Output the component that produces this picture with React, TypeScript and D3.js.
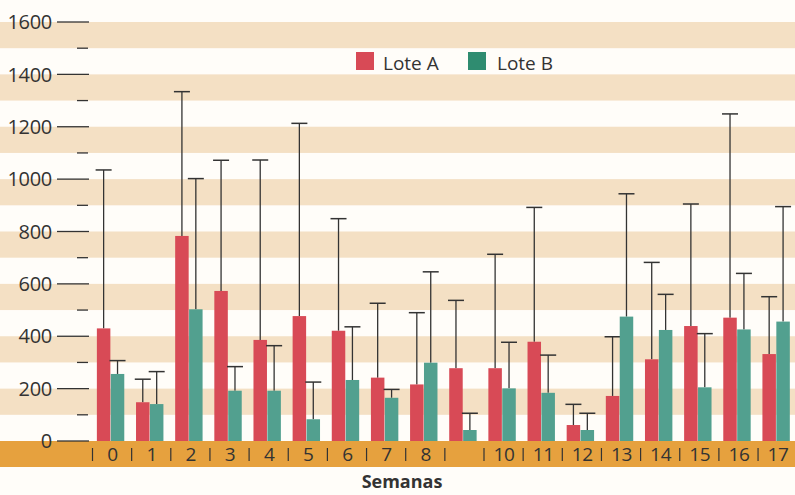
import React from 'react';
import * as d3 from 'd3';

const weeks = ['0','1','2','3','4','5','6','7','8','9','10','11','12','13','14','15','16','17'];
const weekLabels = ['0','1','2','3','4','5','6','7','8','','10','11','12','13','14','15','16','17'];
const seriesNames = ['Lote A', 'Lote B'];
const loteA = [430, 148, 783, 573, 386, 477, 421, 242, 216, 278, 278, 379, 61, 172, 312, 439, 471, 332];
const loteAUpper = [1035, 236, 1334, 1072, 1073, 1213, 849, 526, 490, 537, 713, 892, 140, 398, 682, 905, 1249, 551];
const loteB = [256, 141, 503, 192, 192, 83, 233, 165, 299, 42, 201, 184, 42, 475, 424, 205, 426, 456];
const loteBUpper = [307, 265, 1002, 284, 364, 225, 436, 197, 646, 106, 377, 328, 106, 944, 560, 410, 640, 895];
const yTicks = [0, 200, 400, 600, 800, 1000, 1200, 1400, 1600];
const yMinorTicks = [100, 300, 500, 700, 900, 1100, 1300, 1500];
const xTitle = 'Semanas';

const W = 795;
const H = 495;
const RED = '#d84a56';
const TEAL = '#52a08f';
const TEAL_LEG = '#2f8c70';
const TAN = '#f4e0c4';
const ORANGE = '#e6a13e';
const INK = '#333333';
const FONT = '"Open Sans", "Noto Sans", sans-serif';

export default function App() {
  const y = d3.scaleLinear().domain([0, 1600]).range([441, 22]);
  const x = d3.scaleBand<string>().domain(weeks).range([91, 795.7]).paddingInner(0.3).paddingOuter(0.15);
  const xs = d3.scaleBand<string>().domain(['A', 'B']).range([0, x.bandwidth()]).paddingInner(0.03);
  const series = [
    { key: 'A', vals: loteA, up: loteAUpper, color: RED },
    { key: 'B', vals: loteB, up: loteBUpper, color: TEAL },
  ];
  const step = x.step();

  return (
    <svg width={W} height={H} style={{ position: 'absolute', left: 0, top: 0, background: '#fffdf9' }} fontFamily={FONT}>
      <rect x={0} y={0} width={W} height={H} fill="#fffdf9" />
      {/* stripes */}
      {yTicks.filter(v => v > 0).map(v => (
        <rect key={'s' + v} x={0} y={y(v)} width={W} height={y(v - 100) - y(v)} fill={TAN} />
      ))}
      {/* orange band */}
      <rect x={0} y={y(0)} width={W} height={26} fill={ORANGE} />
      {/* y ticks */}
      {yTicks.map(v => (
        <g key={'t' + v}>
          <line x1={57} x2={89} y1={y(v)} y2={y(v)} stroke={INK} strokeWidth={1.3} />
          <text x={52} y={y(v)} dy="0.36em" textAnchor="end" fontSize={20} fill={INK} letterSpacing={-0.3}>{v}</text>
        </g>
      ))}
      {yMinorTicks.map(v => (
        <line key={'m' + v} x1={77} x2={88} y1={y(v)} y2={y(v)} stroke={INK} strokeWidth={1.3} />
      ))}
      {/* bars */}
      {series.map(s => (
        <g key={s.key}>
          {weeks.map((w, i) => {
            const bx = (x(w) as number) + (xs(s.key) as number);
            const bw = xs.bandwidth();
            const cx = bx + bw / 2;
            return (
              <g key={w}>
                <line x1={cx} x2={cx} y1={y(s.vals[i])} y2={y(s.up[i])} stroke={INK} strokeWidth={1.3} />
                <line x1={cx - 8} x2={cx + 8} y1={y(s.up[i])} y2={y(s.up[i])} stroke={INK} strokeWidth={1.5} />
                <rect x={bx} y={y(s.vals[i])} width={bw} height={y(0) - y(s.vals[i])} fill={s.color} />
              </g>
            );
          })}
        </g>
      ))}
      {/* x axis labels & separators */}
      {weeks.map((w, i) => {
        const start = (x(w) as number) - step * 0.15 + 1.5;
        const cx = (x(w) as number) + x.bandwidth() / 2 + 2;
        return (
          <g key={'x' + w}>
            <line x1={start} x2={start} y1={448} y2={461} stroke={INK} strokeWidth={1.2} />
            <text x={cx} y={461} textAnchor="middle" fontSize={19} fill={INK} letterSpacing={-0.3}>{weekLabels[i]}</text>
          </g>
        );
      })}
      <text x={402} y={488} textAnchor="middle" fontSize={18} fontWeight={700} fill={INK}>{xTitle}</text>
      {/* legend */}
      <rect x={356} y={52} width={18} height={18} fill={RED} />
      <text x={383} y={70} fontSize={19} fill={INK}>{seriesNames[0]}</text>
      <rect x={468} y={52} width={18} height={18} fill={TEAL_LEG} />
      <text x={497} y={70} fontSize={19} fill={INK}>{seriesNames[1]}</text>
    </svg>
  );
}
